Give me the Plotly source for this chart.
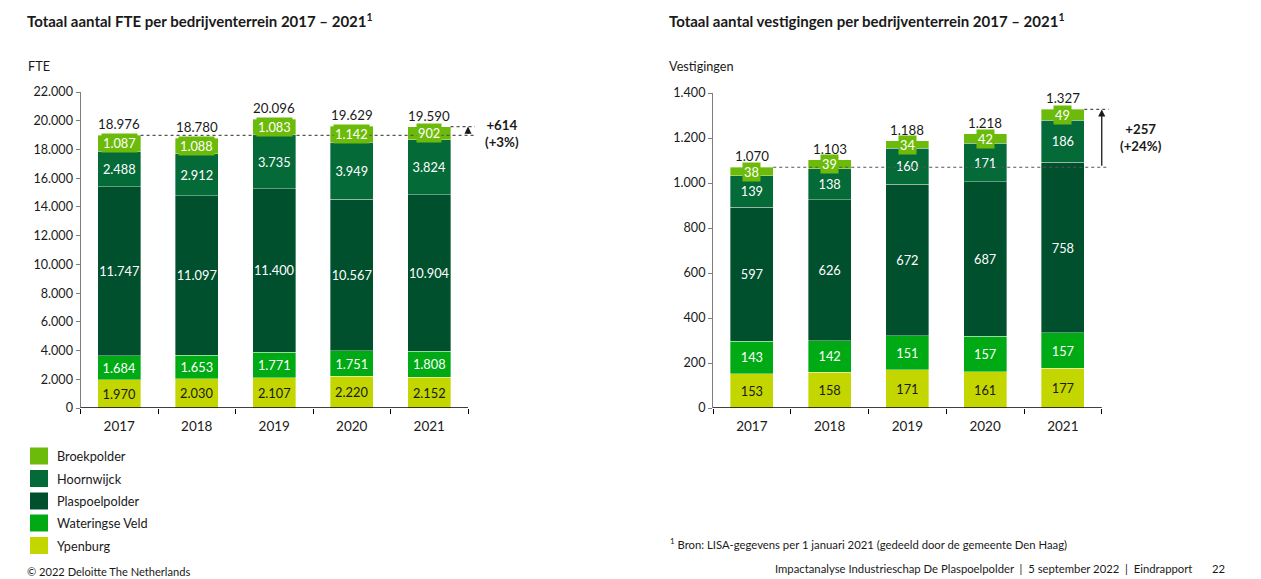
import plotly.graph_objects as go

# ---- data ---------------------------------------------------------------
years = ["2017", "2018", "2019", "2020", "2021"]

# stacking order bottom -> top
series_names = ["Ypenburg", "Wateringse Veld", "Plaspoelpolder", "Hoornwijck", "Broekpolder"]
series_colors = ["#C4D600", "#00AA14", "#004F2D", "#046A38", "#6CBB0A"]
label_colors = ["#1a1a1a", "white", "white", "white", "white"]

# FTE per bedrijventerrein
fte_ypenburg = [1970, 2030, 2107, 2220, 2152]
fte_wateringse_veld = [1684, 1653, 1771, 1751, 1808]
fte_plaspoelpolder = [11747, 11097, 11400, 10567, 10904]
fte_hoornwijck = [2488, 2912, 3735, 3949, 3824]
fte_broekpolder = [1087, 1088, 1083, 1142, 902]

# Vestigingen per bedrijventerrein
ves_ypenburg = [153, 158, 171, 161, 177]
ves_wateringse_veld = [143, 142, 151, 157, 157]
ves_plaspoelpolder = [597, 626, 672, 687, 758]
ves_hoornwijck = [139, 138, 160, 171, 186]
ves_broekpolder = [38, 39, 34, 42, 49]

fte_series = [fte_ypenburg, fte_wateringse_veld, fte_plaspoelpolder, fte_hoornwijck, fte_broekpolder]
ves_series = [ves_ypenburg, ves_wateringse_veld, ves_plaspoelpolder, ves_hoornwijck, ves_broekpolder]

fte_change_label = "+614<br>(+3%)"
ves_change_label = "+257<br>(+24%)"

FONT = "Lato"
INK = "#1a1a1a"
W, H = 1261, 579


def nl(v):
    return f"{v:,}".replace(",", ".")


def px_x(p):
    return p / W


def px_y(p):
    return 1 - p / H


fig = go.Figure()
annotations = []
shapes = []

BARGAP = 0.45
HALF = (1 - BARGAP) / 2
XRANGE = [-0.5, 4.62]


def add_chart(data, xa, ya):
    totals = [sum(col) for col in zip(*data)]
    cum = [0] * len(years)
    for name, vals, col, lc in zip(series_names, data, series_colors, label_colors):
        is_top = name == "Broekpolder"
        fig.add_trace(go.Bar(
            x=years, y=vals, name=name, xaxis=xa, yaxis=ya,
            marker=dict(color=col, line=dict(color="rgba(255,255,255,0.45)", width=0.8)),
            text=None if is_top else [nl(v) for v in vals],
            textposition="inside", insidetextanchor="middle",
            constraintext="none", textangle=0,
            textfont=dict(family=FONT, size=12.8, color=lc),
            showlegend=False, hoverinfo="skip",
        ))
        if is_top:
            for i, v in enumerate(vals):
                annotations.append(dict(
                    x=i, y=cum[i] + v / 2, xref=xa, yref=ya, text=nl(v),
                    showarrow=False, bgcolor=col, borderpad=1,
                    font=dict(family=FONT, size=12.8, color="white"),
                ))
        cum = [c + v for c, v in zip(cum, vals)]

    # totals above bars
    for i, t in enumerate(totals):
        annotations.append(dict(
            x=i, y=t, xref=xa, yref=ya, text=nl(t), showarrow=False,
            yanchor="bottom", yshift=1,
            font=dict(family=FONT, size=13.3, color=INK),
        ))

    first, last = totals[0], totals[-1]
    # reference lines at the first and last totals
    shapes.append(dict(type="line", xref=xa, yref=ya, x0=0 + HALF, x1=4.59,
                       y0=first, y1=first, line=dict(color="#555", width=1.2, dash="dot")))
    shapes.append(dict(type="line", xref=xa, yref=ya, x0=4 + HALF, x1=4.59,
                       y0=last, y1=last, line=dict(color="#555", width=1.2, dash="dot")))
    # baseline
    shapes.append(dict(type="line", xref=xa, yref=ya, x0=-0.5, x1=4.5,
                       y0=0, y1=0, line=dict(color="black", width=1.5)))
    # growth arrow
    annotations.append(dict(
        x=4.5, y=last, ax=4.5, ay=first, xref=xa, yref=ya, axref=xa, ayref=ya,
        text="", showarrow=True, arrowhead=2, arrowsize=1.1, arrowwidth=1.3,
        arrowcolor=INK, standoff=0, startstandoff=0,
    ))


add_chart(fte_series, "x", "y")
add_chart(ves_series, "x2", "y2")

# growth labels beside the arrows
for x, y, text in [(502, 133, fte_change_label), (1141, 138, ves_change_label)]:
    annotations.append(dict(x=px_x(x), y=px_y(y), xref="paper", yref="paper",
                            text=f"<b>{text}</b>", showarrow=False, align="center",
                            xanchor="center", yanchor="middle",
                            font=dict(family=FONT, size=13.3, color=INK)))

# titles and axis captions
for x, text in [(25, "Totaal aantal FTE per bedrijventerrein 2017 – 2021<sup>1</sup>"),
                (667, "Totaal aantal vestigingen per bedrijventerrein 2017 – 2021<sup>1</sup>")]:
    annotations.append(dict(x=px_x(x), y=px_y(20), xref="paper", yref="paper",
                            text=f"<b>{text}</b>", showarrow=False,
                            xanchor="left", yanchor="middle",
                            font=dict(family=FONT, size=15, color=INK)))
for x, text in [(26, "FTE"), (667, "Vestigingen")]:
    annotations.append(dict(x=px_x(x), y=px_y(66), xref="paper", yref="paper",
                            text=text, showarrow=False, xanchor="left", yanchor="middle",
                            font=dict(family=FONT, size=12.7, color=INK)))

# legend (top -> bottom)
legend_rows = [456, 478.5, 501, 523, 545.5]
for row_y, name, col in zip(legend_rows, series_names[::-1], series_colors[::-1]):
    shapes.append(dict(type="rect", xref="paper", yref="paper",
                       x0=px_x(30), x1=px_x(48), y0=px_y(row_y + 8.5), y1=px_y(row_y - 8.5),
                       fillcolor=col, line=dict(width=0)))
    annotations.append(dict(x=px_x(55), y=px_y(row_y), xref="paper", yref="paper",
                            text=name, showarrow=False, xanchor="left", yanchor="middle",
                            font=dict(family=FONT, size=12.7, color=INK)))

# footer
annotations += [
    dict(x=px_x(25), y=px_y(571), xref="paper", yref="paper",
         text="© 2022 Deloitte The Netherlands", showarrow=False,
         xanchor="left", yanchor="middle", font=dict(family=FONT, size=11.1, color=INK)),
    dict(x=px_x(668), y=px_y(543), xref="paper", yref="paper",
         text="<sup>1</sup> Bron: LISA-gegevens per 1 januari 2021 (gedeeld door de gemeente Den Haag)",
         showarrow=False, xanchor="left", yanchor="middle",
         font=dict(family=FONT, size=11.3, color=INK)),
    dict(x=px_x(1194), y=px_y(568), xref="paper", yref="paper",
         text="Impactanalyse Industrieschap De Plaspoelpolder  |  5 september 2022  |  Eindrapport",
         showarrow=False, xanchor="right", yanchor="middle",
         font=dict(family=FONT, size=11.3, color=INK)),
    dict(x=px_x(1227), y=px_y(568), xref="paper", yref="paper", text="22",
         showarrow=False, xanchor="right", yanchor="middle",
         font=dict(family=FONT, size=11.3, color=INK)),
]

# axes
cat_w_left = 77.5
cat_w_right = 77.75
span = XRANGE[1] - XRANGE[0]
x_common = dict(type="category", range=XRANGE, showline=False, showgrid=False, zeroline=False,
                ticks="outside", ticklen=5, tickcolor="black", tickson="boundaries",
                ticklabelstandoff=8, automargin=False,
                tickfont=dict(family=FONT, size=13.5, color=INK), fixedrange=True)
y_common = dict(showline=True, linecolor="#7f7f7f", linewidth=1, showgrid=False, zeroline=False,
                ticks="outside", ticklen=4, tickcolor="#7f7f7f", tickformat=",d",
                automargin=False,
                tickfont=dict(family=FONT, size=12.6, color=INK), fixedrange=True)

fig.update_layout(
    template="none",
    width=W, height=H, margin=dict(l=0, r=0, t=0, b=0, pad=0, autoexpand=False),
    paper_bgcolor="white", plot_bgcolor="white",
    barmode="stack", bargap=BARGAP, separators=",.",
    showlegend=False,
    xaxis=dict(x_common, domain=[px_x(80.5), px_x(80.5 + span * cat_w_left)], anchor="y"),
    yaxis=dict(y_common, domain=[px_y(408), px_y(92)], range=[0, 22000], dtick=2000, anchor="x"),
    xaxis2=dict(x_common, domain=[px_x(713), px_x(713 + span * cat_w_right)], anchor="y2"),
    yaxis2=dict(y_common, domain=[px_y(408), px_y(93)], range=[0, 1400], dtick=200, anchor="x2"),
    annotations=annotations, shapes=shapes,
)

fig.write_html("out.html", post_script="document.body.style.margin='0';")
